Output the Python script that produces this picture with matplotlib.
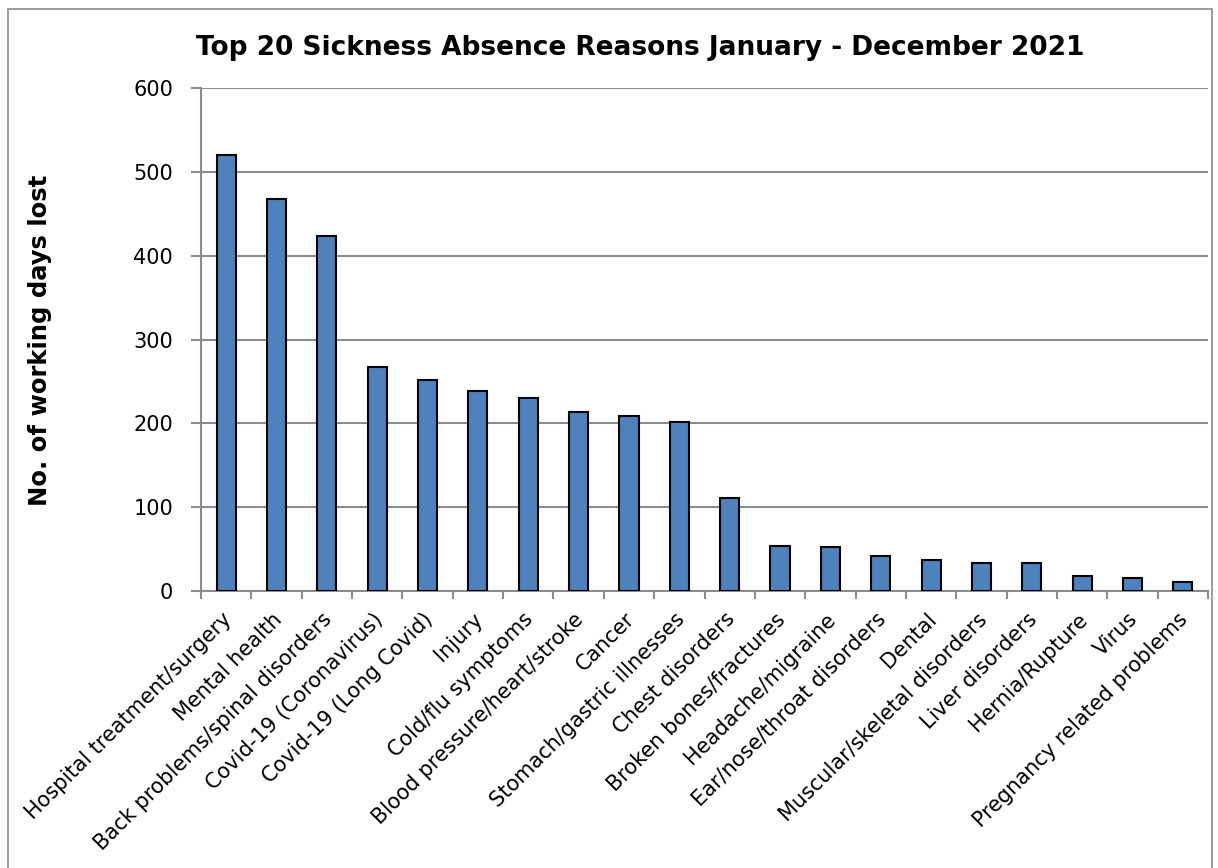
import matplotlib
matplotlib.use("Agg")
import matplotlib.pyplot as plt
import numpy as np
from matplotlib.patches import Rectangle
from matplotlib.transforms import ScaledTranslation

categories = [
    "Hospital treatment/surgery", "Mental health", "Back problems/spinal disorders",
    "Covid-19 (Coronavirus)", "Covid-19 (Long Covid)", "Injury", "Cold/flu symptoms",
    "Blood pressure/heart/stroke", "Cancer", "Stomach/gastric illnesses",
    "Chest disorders", "Broken bones/fractures", "Headache/migraine",
    "Ear/nose/throat disorders", "Dental", "Muscular/skeletal disorders",
    "Liver disorders", "Hernia/Rupture", "Virus", "Pregnancy related problems",
]
days_lost = [520, 467, 424, 267, 252, 238, 230, 213, 209, 201,
             111, 54, 52, 42, 37, 33, 33, 18, 16, 11]
y_ticks = [0, 100, 200, 300, 400, 500, 600]

title = "Top 20 Sickness Absence Reasons January - December 2021"
ylabel = "No. of working days lost"

plt.rcParams['font.family'] = ['DejaVu Sans']

W, H = 1218, 868
fig = plt.figure(figsize=(W / 100, H / 100), dpi=100)
fig.patch.set_facecolor("white")

# outer chart border (bottom edge lies outside the picture, as in the reference)
fig.patches.append(Rectangle((8 / W, 1 - 880 / H), (1212 - 8) / W, (880 - 9) / H,
                             transform=fig.transFigure, fill=False,
                             edgecolor="#8c8c8c", linewidth=1.2, zorder=0))

left, right, top, bottom = 201, 1208, 88, 591
ax = fig.add_axes([left / W, 1 - bottom / H, (right - left) / W, (bottom - top) / H])

x = np.arange(len(categories))
ax.bar(x, days_lost, width=0.38, color="#4F81BD", edgecolor="black",
       linewidth=1.5, zorder=3)

ax.set_xlim(-0.5, len(categories) - 0.5)
ax.set_ylim(0, 600)
ax.set_yticks(y_ticks)
ax.set_yticklabels([str(v) for v in y_ticks], fontsize=15)
ax.yaxis.grid(True, color="#8c8c8c", linewidth=1.5, zorder=0)
ax.set_axisbelow(True)

ax.set_xticks(x)
ax.set_xticklabels(categories, rotation=45, ha="right", rotation_mode="anchor",
                   fontsize=15)
ax.set_xticks(np.arange(-0.5, len(categories), 1.0), minor=True)
ax.tick_params(axis="x", which="major", length=0, pad=13)
ax.tick_params(axis="x", which="minor", length=6, width=1.5, color="#8c8c8c")
ax.tick_params(axis="y", length=7, width=1.5, color="#8c8c8c", pad=13)

shift = ScaledTranslation(-5 / 100, 0, fig.dpi_scale_trans)
for lab in ax.get_xticklabels():
    lab.set_transform(lab.get_transform() + shift)

for s in ["top", "right"]:
    ax.spines[s].set_visible(False)
for s in ["left", "bottom"]:
    ax.spines[s].set_color("#8c8c8c")
    ax.spines[s].set_linewidth(1.5)

fig.text(640 / W, 1 - 48 / H, title, ha="center", va="center",
         fontsize=19, fontweight="bold")
fig.text(40 / W, 1 - 340 / H, ylabel, ha="center", va="center", rotation=90,
         fontsize=17.5, fontweight="bold")

fig.savefig("out.png", dpi=100, facecolor="white")
